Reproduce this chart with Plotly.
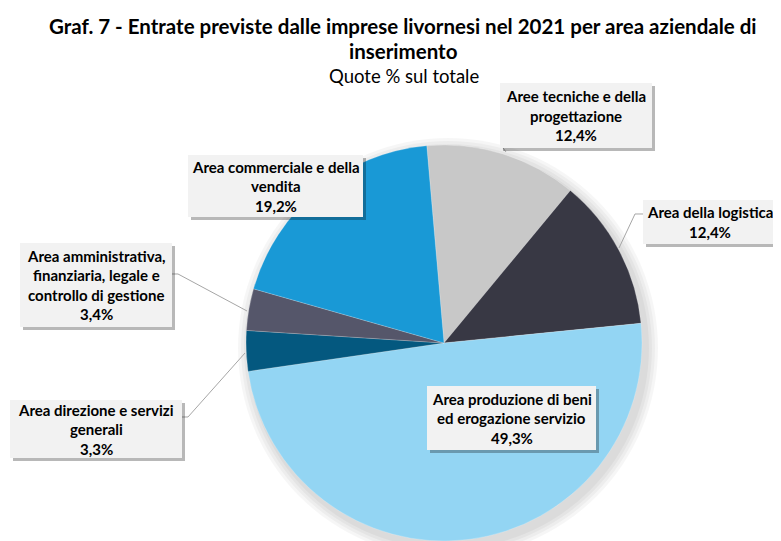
import plotly.graph_objects as go

# the page body has an 8px default margin, so the figure is offset by that
OFF = 8
W, H = 781 - OFF, 541 - OFF

categories = [
    "Aree tecniche e della progettazione",
    "Area della logistica",
    "Area produzione di beni ed erogazione servizio",
    "Area direzione e servizi generali",
    "Area amministrativa, finanziaria, legale e controllo di gestione",
    "Area commerciale e della vendita",
]
shares = [12.4, 12.4, 49.3, 3.3, 3.4, 19.2]

COLORS = ["#C8C8C8", "#383844", "#93D5F3", "#04587F", "#55566A", "#1999D6"]

# label boxes: wrapped lines + box in screen pixels (x0, y0, x1, y1)
LABELS = [
    (["Aree tecniche e della", "progettazione"], (500, 83, 652, 148)),
    (["Area della logistica"], (643, 200, 777, 244)),
    (["Area produzione di beni", "ed erogazione servizio"], (427, 386, 596, 450)),
    (["Area direzione e servizi", "generali"], (10, 400, 182, 458)),
    (["Area amministrativa,", "finanziaria, legale e", "controllo di gestione"], (20, 243, 172, 327)),
    (["Area commerciale e della", "vendita"], (188, 155, 363, 217)),
]

# leader lines in screen pixels
LEADERS = [
    [(503, 148), (506, 152)],
    [(643, 214), (635, 214), (619, 248)],
    [(172, 274), (178, 274), (247, 311)],
    [(182, 417), (188, 417), (245, 353)],
]

CX, CY, R = 444, 343, 198
FONT = "Lato"


def px(x):
    return (x - OFF) / W


def py(y):
    return 1 - (y - OFF) / H


fig = go.Figure()
fig.add_trace(
    go.Pie(
        labels=categories,
        values=shares,
        sort=False,
        direction="clockwise",
        rotation=-5,
        marker=dict(colors=COLORS, line=dict(color="rgba(255,255,255,0.4)", width=0.5)),
        textinfo="none",
        hoverinfo="label+percent",
        showlegend=False,
        domain=dict(x=[px(CX - R), px(CX + R)], y=[max(0, py(CY + R)), py(CY - R)]),
    )
)

shapes = []
# soft shadow behind the pie
for grow in [12, 9, 6, 3]:
    shapes.append(dict(
        type="circle", xref="paper", yref="paper", layer="below",
        x0=px(CX + 4 - R - grow), x1=px(CX + 4 + R + grow),
        y0=py(CY + 5 + R + grow), y1=py(CY + 5 - R - grow),
        line=dict(width=0), fillcolor="rgba(0,0,0,0.035)",
    ))

for pts in LEADERS:
    path = "M " + " L ".join(f"{px(x):.5f},{py(y):.5f}" for x, y in pts)
    shapes.append(dict(type="path", xref="paper", yref="paper", path=path,
                       line=dict(color="#A6A6A6", width=1), layer="above"))

annotations = []
LINE_H = 19.5
for (lines, (x0, y0, x1, y1)), val in zip(LABELS, shares):
    shapes.append(dict(type="rect", xref="paper", yref="paper", layer="above",
                       x0=px(x0 + 3), x1=px(x1 + 3), y0=py(y1 + 3), y1=py(y0 + 3),
                       line=dict(width=0), fillcolor="rgba(0,0,0,0.28)"))
    shapes.append(dict(type="rect", xref="paper", yref="paper", layer="above",
                       x0=px(x0), x1=px(x1), y0=py(y1), y1=py(y0),
                       line=dict(width=0), fillcolor="#F2F2F2"))
    all_lines = lines + [f"{val:.1f}%".replace(".", ",")]
    n = len(all_lines)
    yc = (y0 + y1) / 2
    for k, t in enumerate(all_lines):
        yy = yc + (k - (n - 1) / 2) * LINE_H
        annotations.append(dict(
            x=px((x0 + x1) / 2), y=py(yy), xref="paper", yref="paper",
            text=f"<b>{t}</b>", showarrow=False, xanchor="center", yanchor="middle",
            font=dict(family=FONT, size=15, color="#000000"),
        ))

annotations.append(dict(
    x=px(403), y=py(26), xref="paper", yref="paper", showarrow=False,
    text="<b>Graf. 7 - Entrate previste dalle imprese livornesi nel 2021 per area aziendale di</b>",
    font=dict(family=FONT, size=20.5, color="#000000"), xanchor="center", yanchor="middle",
))
annotations.append(dict(
    x=px(403), y=py(51), xref="paper", yref="paper", showarrow=False,
    text="<b>inserimento</b>",
    font=dict(family=FONT, size=20.5, color="#000000"), xanchor="center", yanchor="middle",
))
annotations.append(dict(
    x=px(404), y=py(76), xref="paper", yref="paper", showarrow=False,
    text="Quote % sul totale",
    font=dict(family=FONT, size=18.5, color="#000000"), xanchor="center", yanchor="middle",
))

fig.update_layout(
    width=W, height=H,
    margin=dict(l=0, r=0, t=0, b=0),
    paper_bgcolor="#FFFFFF",
    plot_bgcolor="#FFFFFF",
    shapes=shapes,
    annotations=annotations,
)

fig.write_html("out.html")
